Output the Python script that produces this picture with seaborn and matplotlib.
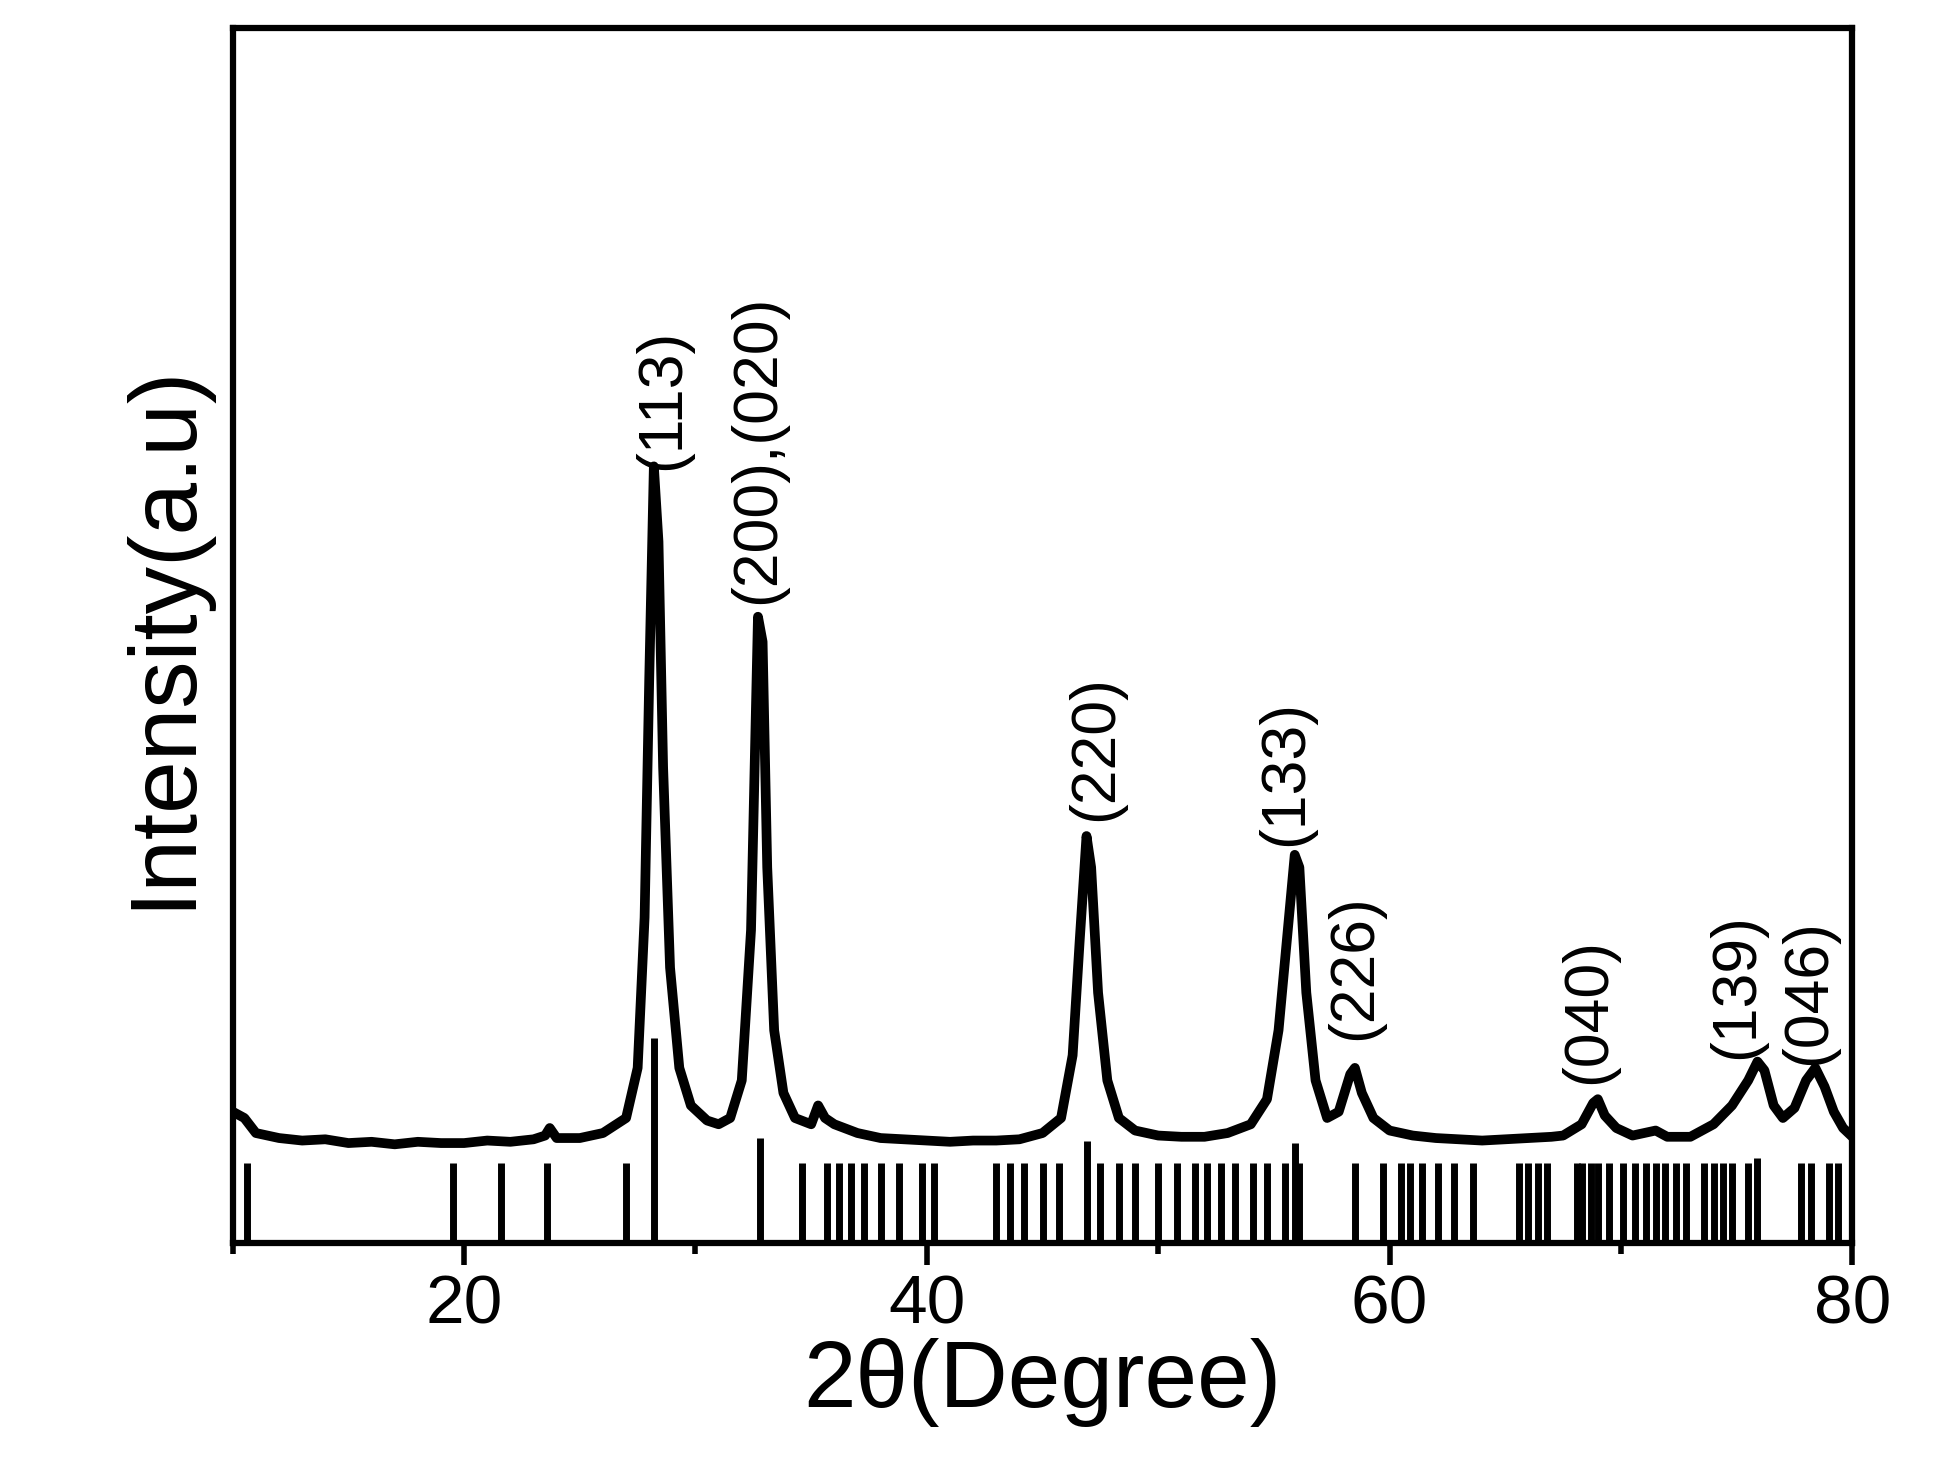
import numpy as np
import pandas as pd
import matplotlib
matplotlib.use('Agg')
import matplotlib.pyplot as plt
import seaborn as sns

two_theta = [10, 10.5, 11, 12, 13, 14, 15, 16, 17, 18, 19, 20, 21, 22, 23, 23.5, 23.7, 24, 25, 26, 27,
             27.5, 27.8, 28.0, 28.2, 28.4, 28.6, 28.9, 29.3, 29.8, 30.5, 31, 31.5, 32, 32.4, 32.7,
             32.9, 33.1, 33.4, 33.8, 34.3, 35, 35.3, 35.6, 36, 37, 38, 39, 40, 41, 42, 43, 44, 45,
             45.8, 46.3, 46.6, 46.9, 47.1, 47.4, 47.8, 48.3, 49, 50, 51, 52, 53, 54, 54.7, 55.2,
             55.6, 55.9, 56.1, 56.4, 56.8, 57.3, 57.8, 58.3, 58.5, 58.8, 59.3, 60, 61, 62, 63, 64,
             65, 66, 67, 67.5, 68.3, 68.8, 69.0, 69.3, 69.8, 70.5, 71.5, 72, 73, 74, 74.8, 75.5,
             75.9, 76.2, 76.6, 77, 77.5, 78, 78.4, 78.8, 79.2, 79.6, 80]
intensity = [105, 100, 88, 84, 82, 83, 80, 81, 79, 81, 80, 80, 82, 81, 83, 86, 92, 84, 84, 88, 100,
             140, 260, 450, 620, 560, 380, 220, 140, 110, 98, 95, 100, 130, 250, 500,
             480, 300, 170, 120, 100, 95, 110, 100, 95, 88, 84, 83, 82, 81, 82, 82, 83, 88,
             100, 150, 240, 325, 300, 200, 130, 100, 90, 86, 85, 85, 88, 95, 115, 170,
             250, 310, 300, 200, 130, 100, 105, 135, 140, 120, 100, 90, 86, 84, 83, 82,
             83, 84, 85, 86, 95, 112, 115, 102, 92, 86, 90, 85, 85, 95, 110, 130,
             145, 138, 110, 100, 108, 130, 140, 125, 105, 92, 85]

# reference pattern stick positions and heights
stick_pos = [10.6, 19.5, 21.6, 23.6, 27.0, 28.2, 32.8, 34.6, 35.7, 36.2, 36.7, 37.3, 38.0, 38.8,
             39.8, 40.3, 43.0, 43.6, 44.2, 45.0, 45.7, 46.9, 47.5, 48.3, 49.0, 50.0, 50.8, 51.6,
             52.1, 52.7, 53.3, 54.1, 54.7, 55.5, 55.9, 56.1, 58.5, 59.7, 60.5, 60.9, 61.4, 62.1,
             62.8, 63.6, 65.6, 66.0, 66.4, 66.8, 68.1, 68.3, 68.7, 69.0, 69.5, 70.1, 70.6, 71.1,
             71.5, 71.9, 72.4, 72.8, 73.6, 74.0, 74.4, 74.8, 75.5, 75.9, 77.8, 78.2, 79.0, 79.4]
stick_h = [64, 64, 64, 64, 64, 164, 84, 64, 64, 64, 64, 64, 64, 64,
           64, 64, 64, 64, 64, 64, 64, 82, 64, 64, 64, 64, 64, 64,
           64, 64, 64, 64, 64, 64, 80, 64, 64, 64, 64, 64, 64, 64,
           64, 64, 64, 64, 64, 64, 64, 64, 64, 64, 64, 64, 64, 64,
           64, 64, 64, 64, 64, 64, 64, 64, 64, 68, 64, 64, 64, 64]

peak_labels = ['(113)', '(200),(020)', '(220)', '(133)', '(226)', '(040)', '(139)', '(046)']
label_x = [28.6, 32.7, 47.3, 55.5, 58.5, 68.6, 75.0, 78.1]
label_y = [617, 510, 337, 317, 162, 127, 147, 142]

sns.set_style('ticks')
plt.rcParams['font.family'] = ['Liberation Sans', 'DejaVu Sans']

fig = plt.figure(figsize=(19.56, 14.61), dpi=100)
ax = fig.add_axes([0.119, 0.149, 0.828, 0.832])

df = pd.DataFrame({'two_theta': two_theta, 'intensity': intensity})
sns.lineplot(data=df, x='two_theta', y='intensity', ax=ax, color='black', linewidth=7)
ax.vlines(stick_pos, 0, stick_h, color='black', linewidth=5)

for lab, x, y in zip(peak_labels, label_x, label_y):
    ax.text(x, y, lab, rotation=90, ha='center', va='bottom', fontsize=45, color='black')

ax.set_xlim(10, 80)
ax.set_ylim(0, 970)
ax.set_xticks([20, 40, 60, 80])
ax.set_xticks([10, 30, 50, 70], minor=True)
ax.set_yticks([])
ax.tick_params(axis='x', which='major', length=16, width=4, labelsize=50, direction='out',
               color='black', labelcolor='black', pad=6)
ax.tick_params(axis='x', which='minor', length=8, width=4, direction='out', color='black')
for s in ax.spines.values():
    s.set_linewidth(4.5)
    s.set_color('black')
    s.set_visible(True)
ax.set_xlabel('2θ(Degree)', fontsize=68, labelpad=0, color='black')
ax.set_ylabel('Intensity(a.u)', fontsize=68, labelpad=18, color='black')

fig.savefig('out.png', dpi=100, facecolor='white')
